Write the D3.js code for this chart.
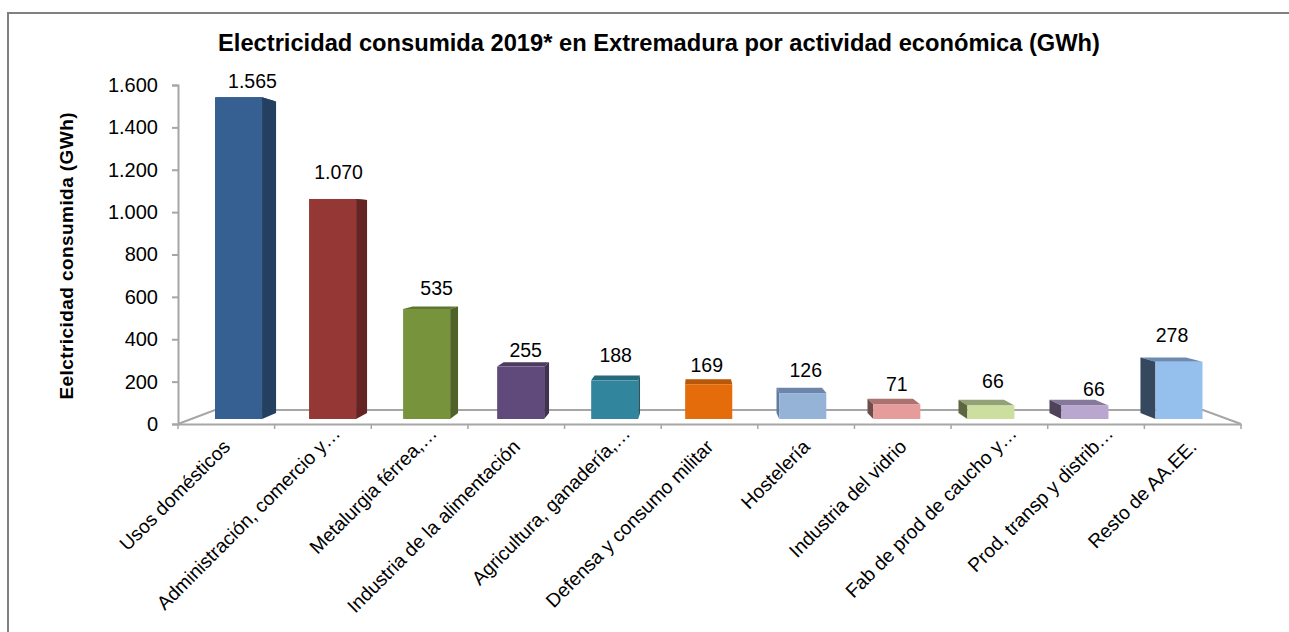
<!DOCTYPE html>
<html>
<head>
<meta charset="utf-8">
<script src="https://cdn.jsdelivr.net/npm/d3@7"></script>
<style>
	html, body { margin: 0; padding: 0; background: #fff; }
	text { font-family: "Liberation Sans", Arial, sans-serif; fill: #000; }
</style>
</head>
<body>
<script>
const width = 1289;
const height = 632;

const categories = ["Usos domésticos", "Administración, comercio y…", "Metalurgia férrea,…", "Industria de la alimentación", "Agricultura, ganadería,…", "Defensa y consumo militar", "Hostelería", "Industria del vidrio", "Fab de prod de caucho y…", "Prod, transp y distrib…", "Resto de AA.EE."];
const values = [1565, 1070, 535, 255, 188, 169, 126, 71, 66, 66, 278];
const valueLabels = ["1.565", "1.070", "535", "255", "188", "169", "126", "71", "66", "66", "278"];
const frontColors = ["#376092", "#953735", "#77933c", "#604a7b", "#31859c", "#e46c0a", "#95b3d7", "#e59c9a", "#cddf9f", "#b9a7cf", "#95c0ee"];
const sideColors = ["#243f60", "#632423", "#4f6228", "#3f3151", "#215968", "#984807", "#5f7ba1", "#6e4c4b", "#5d6640", "#4e4359", "#36485e"];
const topColors = ["#2c4d75", "#77302e", "#5f7630", "#4d3b62", "#276a7d", "#b85708", "#6d85a8", "#ab7270", "#93a276", "#85789a", "#6b8bb3"];
const yTicks = [0, 200, 400, 600, 800, 1000, 1200, 1400, 1600];

// the value labels were moved by hand in the original, so each has its own nudge
const labelDx = [14, 6, 10, 5, 1, -2, 3, 0, 2, 9, -7];
const labelDy = [-9, -20, -14, -10, -18, -12, -16, -13, -17, -9, -20];

const svg = d3.select("body")
	.append("svg")
	.attr("width", width)
	.attr("height", height)
	.style("display", "block");

// outer frame of the chart
svg.append("path")
	.attr("d", d3.line()([[8, height], [8, 13], [width, 13]]))
	.attr("fill", "none")
	.attr("stroke", "#808080")
	.attr("stroke-width", 2);

svg.append("text")
	.attr("x", 659)
	.attr("y", 51)
	.attr("text-anchor", "middle")
	.attr("font-size", 23.7)
	.attr("font-weight", "bold")
	.text("Electricidad consumida 2019* en Extremadura por actividad económica (GWh)");

// axis scales
const xAxisScale = d3.scaleBand()
	.domain(categories)
	.range([178, 1241]);

const yAxisScale = d3.scaleLinear()
	.domain([0, 1600])
	.range([424, 85]);

// the bars stand a bit further back than the axes
const xBar = d3.scaleBand()
	.domain(categories)
	.range([191.5, 1226])
	.paddingInner(0.5)
	.paddingOuter(0.25);

const yBar = d3.scaleLinear()
	.domain([0, 1600])
	.range([419, 90]);

// floor
const floorY = 410;
svg.append("path")
	.attr("d", d3.line()([[178, 424], [215, floorY], [1203, floorY], [1241, 424]]))
	.attr("fill", "none")
	.attr("stroke", "#a6a6a6")
	.attr("stroke-width", 2);

// perspective: depth points go toward a vanishing point
const vanishX = 694;
const vanishY = 231;
const depth = 0.0325;
const back = (p) => [p[0] + depth * (vanishX - p[0]), p[1] + depth * (vanishY - p[1])];

const bars = svg.append("g")
	.selectAll("g")
	.data(categories)
	.enter()
	.append("g");

const poly = (pts) => d3.line()(pts) + "Z";

bars.append("path")
	.attr("d", (d, i) => {
		const left = xBar(d);
		const right = left + xBar.bandwidth();
		const top = yBar(values[i]);
		return poly([[left, top], [right, top], back([right, top]), back([left, top])]);
	})
	.attr("fill", (d, i) => topColors[i]);

bars.append("path")
	.attr("d", (d, i) => {
		const left = xBar(d);
		const right = left + xBar.bandwidth();
		const top = yBar(values[i]);
		const base = yBar(0);
		// side face shows on whichever side is away from the vanishing point
		const edge = left + xBar.bandwidth() / 2 < vanishX ? right : left;
		return poly([[edge, top], back([edge, top]), back([edge, base]), [edge, base]]);
	})
	.attr("fill", (d, i) => sideColors[i]);

bars.append("rect")
	.attr("x", d => xBar(d))
	.attr("y", (d, i) => yBar(values[i]))
	.attr("width", xBar.bandwidth())
	.attr("height", (d, i) => yBar(0) - yBar(values[i]))
	.attr("fill", (d, i) => frontColors[i]);

bars.append("text")
	.attr("x", (d, i) => xBar(d) + xBar.bandwidth() / 2 + labelDx[i])
	.attr("y", (d, i) => yBar(values[i]) + labelDy[i])
	.attr("text-anchor", "middle")
	.attr("font-size", 19.5)
	.text((d, i) => valueLabels[i]);

// axes
const yAxis = d3.axisLeft(yAxisScale)
	.tickValues(yTicks)
	.tickSize(6)
	.tickPadding(14)
	.tickFormat(d => d3.format(",")(d).replace(",", "."));

const yAxisG = svg.append("g")
	.attr("transform", "translate(178,0)")
	.call(yAxis);

const xAxis = d3.axisBottom(xAxisScale)
	.tickSize(0)
	.tickPadding(0)
	.tickFormat("");

const xAxisG = svg.append("g")
	.attr("transform", "translate(0,424)")
	.call(xAxis);

xAxisG.selectAll(".tick").remove();

svg.append("g")
	.selectAll("line")
	.data(d3.range(0, categories.length + 1))
	.enter()
	.append("line")
	.attr("x1", i => 178 + i * xAxisScale.step())
	.attr("x2", i => 178 + i * xAxisScale.step())
	.attr("y1", 424)
	.attr("y2", 429)
	.attr("stroke", "#a6a6a6")
	.attr("stroke-width", 1.5);

svg.selectAll(".domain, .tick line")
	.attr("stroke", "#a6a6a6")
	.attr("stroke-width", 2);

yAxisG.selectAll("text")
	.attr("font-size", 20)
	.attr("fill", "#000")
	.style("font-family", '"Liberation Sans", Arial, sans-serif');

// category labels, rotated and ending under the middle of each band
// truncated ones reach a little further towards the axis
svg.append("g")
	.selectAll("text")
	.data(categories)
	.enter()
	.append("text")
	.attr("transform", d => `translate(${xAxisScale(d) + xAxisScale.bandwidth() / 2 + 5},448) rotate(-45)`)
	.attr("text-anchor", "end")
	.attr("dx", d => d.endsWith("…") ? 19 : 0)
	.attr("font-size", 19.3)
	.text(d => d);

svg.append("text")
	.attr("transform", "translate(73,256) rotate(-90)")
	.attr("text-anchor", "middle")
	.attr("font-size", 19)
	.attr("font-weight", "bold")
	.attr("textLength", 287)
	.text("Eelctricidad consumida (GWh)");
</script>
</body>
</html>
